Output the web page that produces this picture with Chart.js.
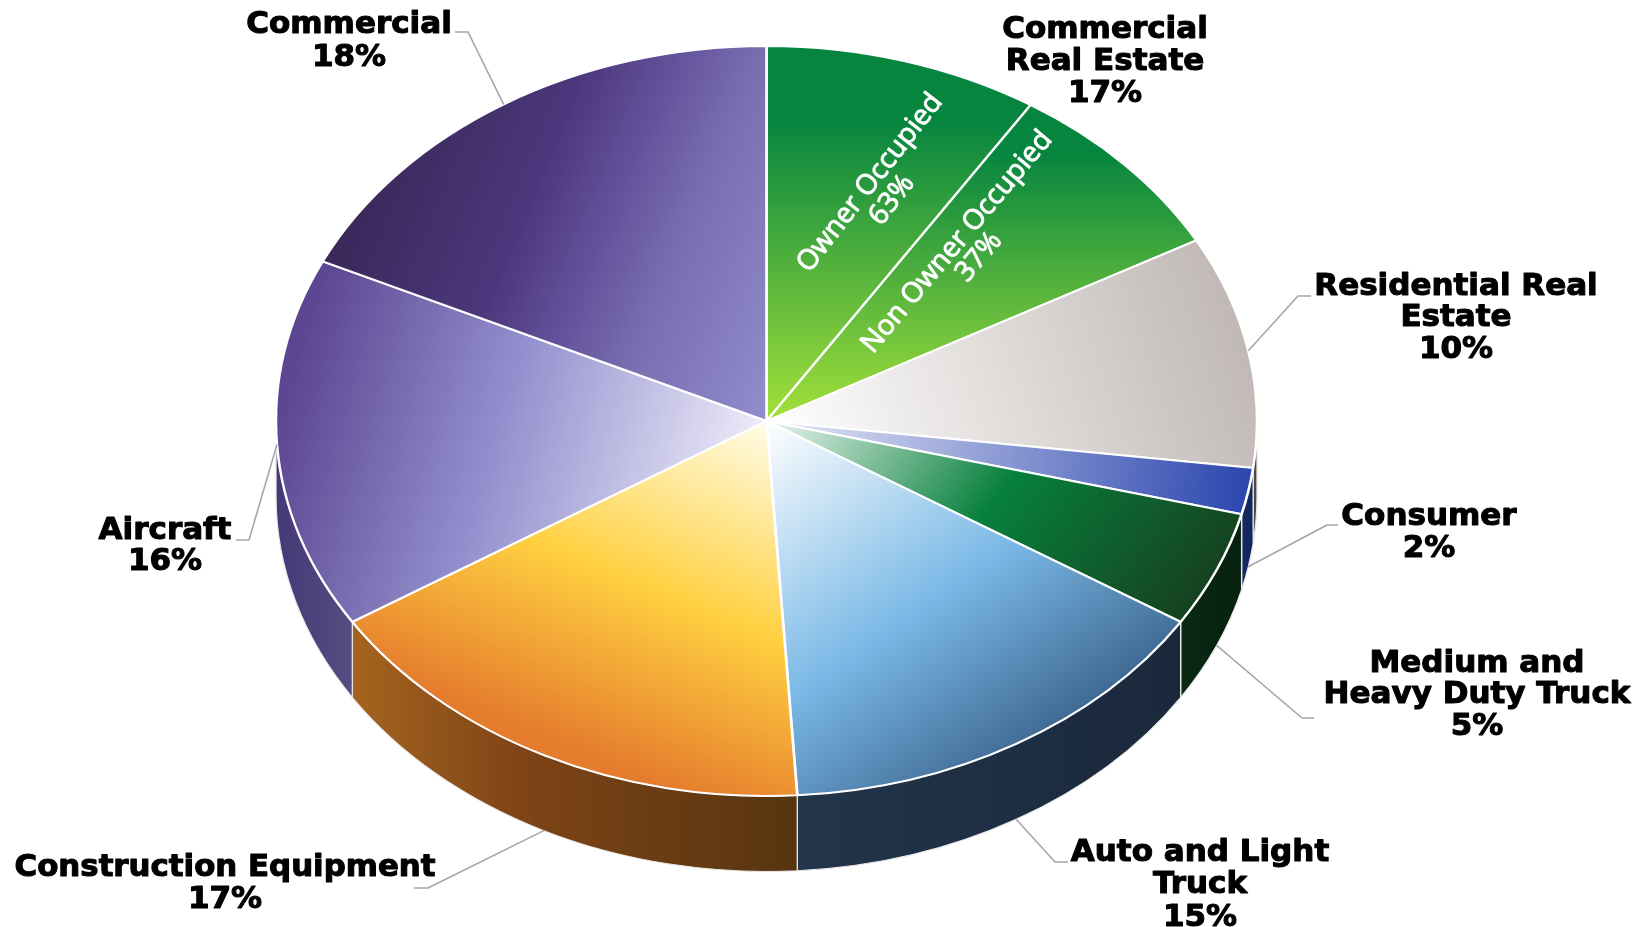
<!DOCTYPE html>
<html>
<head>
<meta charset="utf-8">
<title>Loan portfolio</title>
<script src="https://cdn.jsdelivr.net/npm/chart.js@4"></script>
<style>
  html, body { margin: 0; padding: 0; background: #fff; }
  canvas { display: block; }
</style>
</head>
<body>
<canvas id="pie" width="1646" height="927"></canvas>
<script>
// --- data ---
const sliceNames = ['Owner Occupied', 'Non Owner Occupied', 'Residential Real Estate', 'Consumer',
  'Medium and Heavy Duty Truck', 'Auto and Light Truck', 'Construction Equipment', 'Aircraft', 'Commercial'];
const sliceValues = [9.05, 7.95, 10, 2, 5, 15, 17, 16, 18];

const calloutTexts = [
  ['Commercial', '18%'],
  ['Commercial', 'Real Estate', '17%'],
  ['Residential Real', 'Estate', '10%'],
  ['Consumer', '2%'],
  ['Medium and', 'Heavy Duty Truck', '5%'],
  ['Auto and Light', 'Truck', '15%'],
  ['Construction Equipment', '17%'],
  ['Aircraft', '16%']
];
const innerTexts = [['Owner Occupied', '63%'], ['Non Owner Occupied', '37%']];

// --- look of the pie ---
const centerX = 766.5, centerY = 421;
const radiusX = 490.5, radiusY = 375, wallDepth = 75.5;
const squash = radiusY / radiusX;

// "to" is where the gradient ends on screen, in px from "from", which is in px from the apex
const topGradients = [
  { from: [0, -375], to: [0, 375], stops: [[0, '#06853f'], [0.2, '#06853f'], [1, '#a4e03a']] },
  { from: [0, -316], to: [0, 316], stops: [[0, '#06853f'], [0.15, '#06853f'], [1, '#a4e03a']] },
  { from: [0, 0], to: [490, -169], stops: [[0, '#ffffff'], [1, '#bbb3af']] },
  { from: [0, 0], to: [485, 63], stops: [[0, '#e8eaf6'], [1, '#2a45ae']] },
  { from: [0, 0], to: [368, 276], stops: [[0, '#ecf6f0'], [0.5, '#07803c'], [1, '#173f1f']] },
  { from: [0, 0], to: [244, 344], stops: [[0, '#ffffff'], [0.57, '#7ab9e6'], [1, '#3e6892']] },
  { from: [0, 0], to: [-152, 368], stops: [[0, '#fffde8'], [0.5, '#ffd040'], [0.95, '#e57c2d'], [1, '#e57c2d']] },
  { from: [0, 0], to: [-451, -132], stops: [[0, '#eeecf9'], [0.53, '#9491cf'], [1, '#5c4691']] },
  { from: [0, 0], to: [-432, -179], stops: [[0, '#918dcc'], [0.31, '#7a6eb0'], [0.48, '#63529b'], [0.65, '#4d377c'], [1, '#3a2859']] }
];
// side walls run left to right, u is in radii
const wallGradients = [
  null,
  null,
  [[0.95, '#4b4a48'], [1, '#4b4a48']],
  [[0.95, '#1a2c66'], [1, '#10245a']],
  [[0.84, '#0a2a14'], [0.97, '#06200e']],
  [[0.06, '#22354b'], [0.85, '#1a283b']],
  [[-0.85, '#a5641f'], [-0.5, '#7e4416'], [0.06, '#573510']],
  [[-1, '#453878'], [-0.85, '#564c80']],
  null
];

// callouts: which slice the leader starts at, whether it starts at the wall's bottom edge,
// elbow and end of the leader, centre of the text and y of each line
const callouts = [
  { slice: 8, wall: false, elbow: [468, 32], end: [455, 32], x: 349, ys: [25, 58] },
  { slice: null, x: 1105, ys: [30, 62, 94] },
  { slice: 2, wall: false, elbow: [1298, 296], end: [1311, 296], x: 1456, ys: [287, 318, 350] },
  { slice: 3, wall: true, elbow: [1327, 525], end: [1338, 525], x: 1429, ys: [517, 549] },
  { slice: 4, wall: true, elbow: [1302, 718], end: [1314, 718], x: 1477, ys: [664, 695, 727] },
  { slice: 5, wall: true, elbow: [1055, 862], end: [1068, 862], x: 1200, ys: [853, 885, 918] },
  { slice: 6, wall: true, elbow: [428, 888], end: [414, 888], x: 225, ys: [868, 900], fit: 421 },
  { slice: 7, wall: false, elbow: [249, 540], end: [236, 540], x: 165, ys: [531, 562] }
];
const innerPlacement = [
  { x: 870, y: 183, dx: 22, dy: 17, angle: -52 },
  { x: 957, y: 242, dx: 22, dy: 15, angle: -50 }
];

function topFill(c) {
  if (c.dataIndex === undefined) return '#888';
  const g = topGradients[c.dataIndex];
  // the fill gets squashed with the pie, so work the screen gradient back to round coordinates
  const vx = g.to[0], vy = g.to[1];
  const len2 = vx * vx + vy * vy;
  const gx = vx / len2, gy = vy * squash / len2;
  const g2 = gx * gx + gy * gy;
  const sx = centerX + g.from[0], sy = centerY + g.from[1] / squash;
  const grad = c.chart.ctx.createLinearGradient(sx, sy, sx + gx / g2, sy + gy / g2);
  g.stops.forEach(s => grad.addColorStop(s[0], s[1]));
  return grad;
}

const pie3d = {
  id: 'pie3d',
  // squash the round pie into an ellipse and put the walls under it
  beforeDatasetsDraw(chart) {
    const ctx = chart.ctx;
    const arcs = chart.getDatasetMeta(0).data;
    const ax = arcs[0].x, ay = arcs[0].y, r = arcs[0].outerRadius;
    ctx.save();
    ctx.translate(ax, ay);
    ctx.scale(1, squash);
    ctx.translate(-ax, -ay);
    const drop = wallDepth / squash;
    arcs.forEach((arc, i) => {
      const stops = wallGradients[i];
      const a0 = Math.max(arc.startAngle, 0), a1 = Math.min(arc.endAngle, Math.PI);
      if (!stops || a1 <= a0) return;
      const us = stops.map(s => s[0]);
      const uMin = Math.min(...us), uMax = Math.max(...us);
      const grad = ctx.createLinearGradient(ax + uMin * r, 0, ax + uMax * r, 0);
      stops.forEach(s => grad.addColorStop((s[0] - uMin) / (uMax - uMin), s[1]));
      ctx.beginPath();
      ctx.arc(ax, ay, r, a0, a1);
      ctx.arc(ax, ay + drop, r, a1, a0, true);
      ctx.closePath();
      ctx.fillStyle = grad;
      ctx.fill();
      ctx.strokeStyle = '#e8e8e8';
      ctx.lineWidth = 1.3;
      ctx.stroke();
    });
  },
  afterDatasetsDraw(chart) {
    chart.ctx.restore();
    drawCallouts(chart);
    drawInnerTexts(chart.ctx);
  }
};

function drawCallouts(chart) {
  const ctx = chart.ctx;
  const arcs = chart.getDatasetMeta(0).data;
  callouts.forEach((c, i) => {
    if (c.slice !== null) {
      const arc = arcs[c.slice];
      const mid = (arc.startAngle + arc.endAngle) / 2;
      const sx = arc.x + Math.cos(mid) * radiusX;
      const sy = arc.y + Math.sin(mid) * radiusY + (c.wall ? wallDepth : 0);
      ctx.beginPath();
      ctx.moveTo(sx, sy);
      ctx.lineTo(c.elbow[0], c.elbow[1]);
      ctx.lineTo(c.end[0], c.end[1]);
      ctx.strokeStyle = '#a6a6a6';
      ctx.lineWidth = 1.6;
      ctx.stroke();
    }
    ctx.font = 'bold 31px "DejaVu Sans"';
    ctx.textAlign = 'center';
    ctx.textBaseline = 'middle';
    ctx.fillStyle = '#000';
    ctx.strokeStyle = '#000';
    ctx.lineWidth = 1.1;
    ctx.lineJoin = 'round';
    calloutTexts[i].forEach((line, n) => {
      ctx.strokeText(line, c.x, c.ys[n], c.fit);
      ctx.fillText(line, c.x, c.ys[n], c.fit);
    });
  });
}

function drawInnerTexts(ctx) {
  innerPlacement.forEach((p, i) => {
    innerTexts[i].forEach((line, n) => {
      ctx.save();
      ctx.font = '28px "Open Sans"';
      ctx.textAlign = 'center';
      ctx.textBaseline = 'middle';
      ctx.fillStyle = '#fff';
      ctx.strokeStyle = '#fff';
      ctx.lineWidth = 0.9;
      ctx.translate(p.x + n * p.dx, p.y + n * p.dy);
      ctx.rotate(p.angle * Math.PI / 180);
      ctx.strokeText(line, 0, 0);
      ctx.fillText(line, 0, 0);
      ctx.restore();
    });
  });
}

new Chart(document.getElementById('pie').getContext('2d'), {
  type: 'pie',
  plugins: [pie3d],
  data: {
    labels: sliceNames,
    datasets: [{
      data: sliceValues,
      backgroundColor: topFill,
      borderColor: '#ffffff',
      borderWidth: 2.6,
      radius: radiusX,
      clip: false
    }]
  },
  options: {
    responsive: false,
    devicePixelRatio: 1,
    animation: false,
    layout: { padding: { left: 0, top: 0, right: 1646 - 2 * centerX, bottom: 927 - 2 * centerY } },
    plugins: { legend: { display: false }, tooltip: { enabled: false } }
  }
});
</script>
</body>
</html>
